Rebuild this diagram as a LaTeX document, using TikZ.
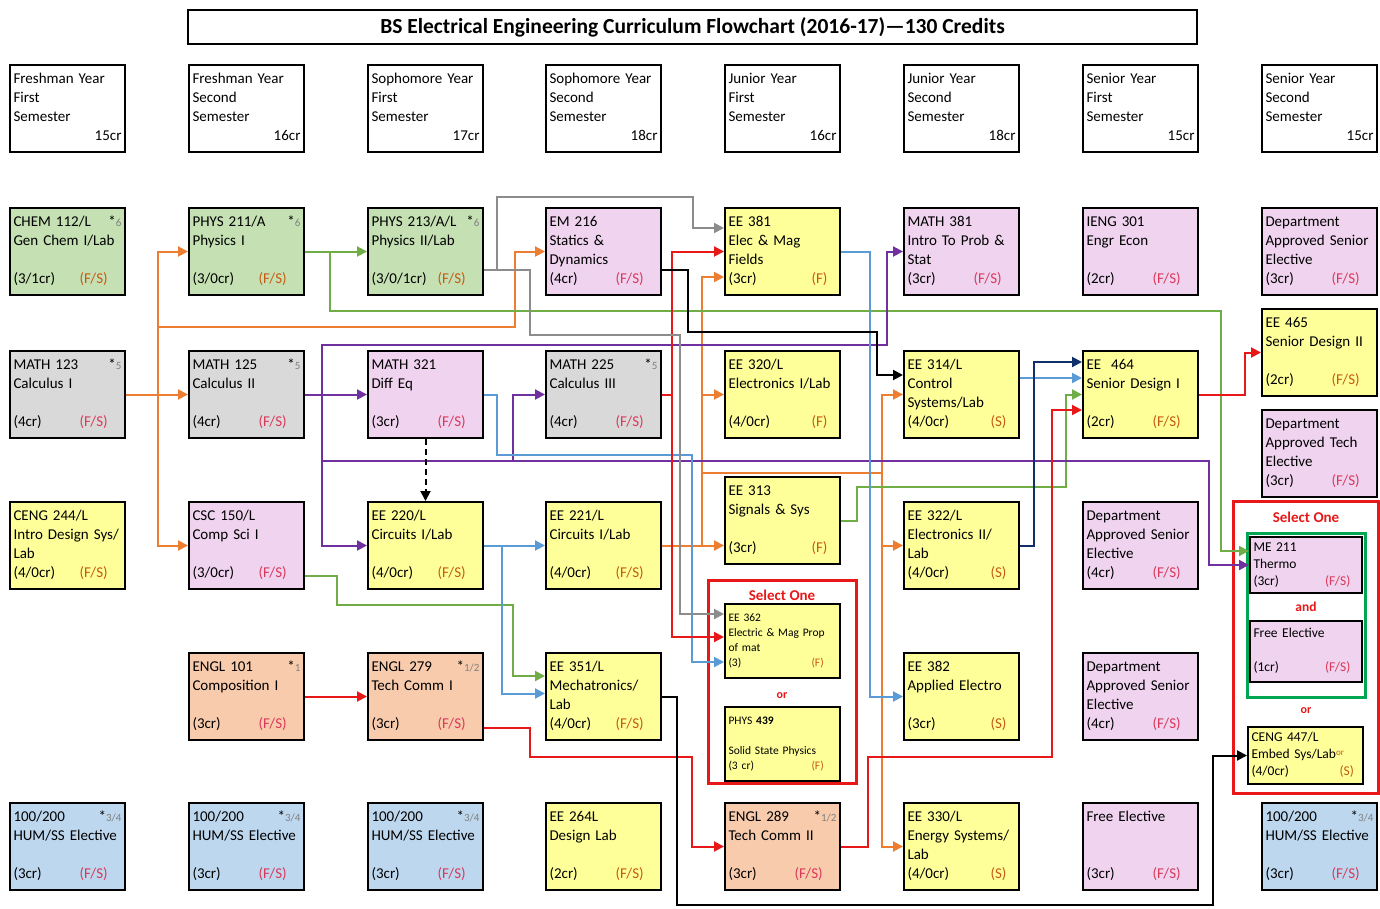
\documentclass[tikz,border=0pt]{standalone}
\usepackage{fontspec}
\setmainfont{Carlito}
\usetikzlibrary{arrows.meta}

\definecolor{cgrn}{HTML}{C5E0B3}
\definecolor{cgry}{HTML}{D9D9D9}
\definecolor{cpnk}{HTML}{EFD3EF}
\definecolor{cyel}{HTML}{FFFF99}
\definecolor{cpch}{HTML}{F8CBAD}
\definecolor{cblu}{HTML}{BDD7EE}
\definecolor{termo}{HTML}{C55A11}
\definecolor{termr}{HTML}{D9385A}
\definecolor{subg}{HTML}{808080}
\definecolor{lora}{HTML}{ED7D31}
\definecolor{lgrn}{HTML}{70AD47}
\definecolor{lpur}{HTML}{7030A0}
\definecolor{lblu}{HTML}{5B9BD5}
\definecolor{lred}{HTML}{E81818}
\definecolor{lgry}{HTML}{8C8C8C}
\definecolor{lnvy}{HTML}{10306A}
\definecolor{lgf}{HTML}{00A651}
\colorlet{termc}{termr}

\tikzset{
  box/.style = {shape = rectangle, draw, line width = 2pt, minimum width = 115pt, minimum height = 87pt,
    text width = 108pt, inner xsep = 3.5pt, inner ysep = 0pt, align = left, font = \fontsize{15}{19}\selectfont},
  hdr/.style = {box, fill = white},
  grn/.style = {box, fill = cgrn, execute at begin node = \colorlet{termc}{termo}},
  yel/.style = {box, fill = cyel, execute at begin node = \colorlet{termc}{termo}},
  gry/.style = {box, fill = cgry},
  pnk/.style = {box, fill = cpnk},
  pch/.style = {box, fill = cpch},
  blu/.style = {box, fill = cblu},
  sbox/.style = {yel, minimum height = 74pt, font = \fontsize{11.5}{15}\selectfont},
  mbox/.style = {box, minimum width = 112pt, text width = 105pt, font = \fontsize{13.5}{17}\selectfont},
  frame/.style = {shape = rectangle, draw = lred, line width = 3pt},
  redlbl/.style = {text = lred, font = \bfseries\fontsize{15}{17}\selectfont},
  con/.style = {line width = 2pt, -{Triangle[length = 10pt, width = 10pt]}},
  ora/.style = {con, draw = lora},
  gra/.style = {con, draw = lgrn},
  pua/.style = {con, draw = lpur},
  bla/.style = {con, draw = lblu},
  rda/.style = {con, draw = lred},
  gya/.style = {con, draw = lgry},
  nva/.style = {con, draw = lnvy},
  bka/.style = {con, draw = black},
}

\newcommand{\course}[8]{\node (#1) [#2] at (#3 + 57.5, #4 + 43.5) {\strut #5\\\strut #6\\\strut #7\\\strut #8};}
\newcommand{\st}[1]{\hfill*{\color{subg}\fontsize{11}{11}\selectfont #1}}
\newcommand{\termfs}[1]{\makebox[66pt][l]{#1}{\color{termc}(F/S)}}
\newcommand{\termf}[1]{\makebox[83pt][l]{#1}{\color{termc}(F)}}
\newcommand{\terms}[1]{\makebox[83pt][l]{#1}{\color{termc}(S)}}

\begin{document}
\begin{tikzpicture}[x = 1pt, y = -1pt]
    \useasboundingbox (0, 0) rectangle (1380, 909);
    \pgfmathsetmacro{\xa}{10}
    \pgfmathsetmacro{\xb}{189}
    \pgfmathsetmacro{\xc}{368}
    \pgfmathsetmacro{\xd}{546}
    \pgfmathsetmacro{\xe}{725}
    \pgfmathsetmacro{\xf}{904}
    \pgfmathsetmacro{\xg}{1083}
    \pgfmathsetmacro{\xh}{1262}
    \pgfmathsetmacro{\ya}{208}
    \pgfmathsetmacro{\yb}{351}
    \pgfmathsetmacro{\yc}{502}
    \pgfmathsetmacro{\yd}{653}
    \pgfmathsetmacro{\ye}{803}

    \node (title) [draw, line width = 2pt, minimum width = 1009pt, minimum height = 34pt,
      font = \bfseries\fontsize{21.5}{23}\selectfont] at (692.5, 27)
      {BS Electrical Engineering Curriculum Flowchart (2016-17)—130 Credits};

    % semesters
    \course{hfa}{hdr}{\xa}{65}{Freshman Year}{First}{Semester}{\hfill 15cr}
    \course{hfb}{hdr}{\xb}{65}{Freshman Year}{Second}{Semester}{\hfill 16cr}
    \course{hsa}{hdr}{\xc}{65}{Sophomore Year}{First}{Semester}{\hfill 17cr}
    \course{hsb}{hdr}{\xd}{65}{Sophomore Year}{Second}{Semester}{\hfill 18cr}
    \course{hja}{hdr}{\xe}{65}{Junior Year}{First}{Semester}{\hfill 16cr}
    \course{hjb}{hdr}{\xf}{65}{Junior Year}{Second}{Semester}{\hfill 18cr}
    \course{hna}{hdr}{\xg}{65}{Senior Year}{First}{Semester}{\hfill 15cr}
    \course{hnb}{hdr}{\xh}{65}{Senior Year}{Second}{Semester}{\hfill 15cr}

    % row 1
    \course{chem}{grn}{\xa}{\ya}{CHEM 112/L\st{6}}{Gen Chem I/Lab}{}{\termfs{(3/1cr)}}
    \course{phys1}{grn}{\xb}{\ya}{PHYS 211/A\st{6}}{Physics I}{}{\termfs{(3/0cr)}}
    \course{phys2}{grn}{\xc}{\ya}{PHYS 213/A/L\st{6}}{Physics II/Lab}{}{\termfs{(3/0/1cr)}}
    \course{em}{pnk}{\xd}{\ya}{EM 216}{Statics \&}{Dynamics}{\termfs{(4cr)}}
    \course{ee381}{yel}{\xe}{\ya}{EE 381}{Elec \& Mag}{Fields}{\termf{(3cr)}}
    \course{math381}{pnk}{\xf}{\ya}{MATH 381}{Intro To Prob \&}{Stat}{\termfs{(3cr)}}
    \course{ieng}{pnk}{\xg}{\ya}{IENG 301}{Engr Econ}{}{\termfs{(2cr)}}
    \course{dsea}{pnk}{\xh}{\ya}{Department}{Approved Senior}{Elective}{\termfs{(3cr)}}

    % row 2
    \course{calc1}{gry}{\xa}{\yb}{MATH 123\st{5}}{Calculus I}{}{\termfs{(4cr)}}
    \course{calc2}{gry}{\xb}{\yb}{MATH 125\st{5}}{Calculus II}{}{\termfs{(4cr)}}
    \course{diffeq}{pnk}{\xc}{\yb}{MATH 321}{Diff Eq}{}{\termfs{(3cr)}}
    \course{calc3}{gry}{\xd}{\yb}{MATH 225\st{5}}{Calculus III}{}{\termfs{(4cr)}}
    \course{ee320}{yel}{\xe}{\yb}{EE 320/L}{Electronics I/Lab}{}{\termf{(4/0cr)}}
    \course{ee314}{yel}{\xf}{\yb}{EE 314/L}{Control}{Systems/Lab}{\terms{(4/0cr)}}
    \course{ee464}{yel}{\xg}{\yb}{EE\ \ 464}{Senior Design I}{}{\termfs{(2cr)}}
    \course{ee465}{yel}{\xh}{309}{EE 465}{Senior Design II}{}{\termfs{(2cr)}}
    \course{dte}{pnk}{\xh}{410}{Department}{Approved Tech}{Elective}{\termfs{(3cr)}}

    % row 3
    \course{ceng244}{yel}{\xa}{\yc}{CENG 244/L}{Intro Design Sys/}{Lab}{\termfs{(4/0cr)}}
    \course{csc}{pnk}{\xb}{\yc}{CSC 150/L}{Comp Sci I}{}{\termfs{(3/0cr)}}
    \course{ee220}{yel}{\xc}{\yc}{EE 220/L}{Circuits I/Lab}{}{\termfs{(4/0cr)}}
    \course{ee221}{yel}{\xd}{\yc}{EE 221/L}{Circuits I/Lab}{}{\termfs{(4/0cr)}}
    \course{ee313}{yel}{\xe}{477}{EE 313}{Signals \& Sys}{}{\termf{(3cr)}}
    \course{ee322}{yel}{\xf}{\yc}{EE 322/L}{Electronics II/}{Lab}{\terms{(4/0cr)}}
    \course{dseb}{pnk}{\xg}{\yc}{Department}{Approved Senior}{Elective}{\termfs{(4cr)}}

    % row 4
    \course{engl101}{pch}{\xb}{\yd}{ENGL 101\st{1}}{Composition I}{}{\termfs{(3cr)}}
    \course{engl279}{pch}{\xc}{\yd}{ENGL 279\st{1/2}}{Tech Comm I}{}{\termfs{(3cr)}}
    \course{ee351}{yel}{\xd}{\yd}{EE 351/L}{Mechatronics/}{Lab}{\termfs{(4/0cr)}}
    \course{ee382}{yel}{\xf}{\yd}{EE 382}{Applied Electro}{}{\terms{(3cr)}}
    \course{dsec}{pnk}{\xg}{\yd}{Department}{Approved Senior}{Elective}{\termfs{(4cr)}}

    % row 5
    \course{huma}{blu}{\xa}{\ye}{100/200\st{3/4}}{HUM/SS Elective}{}{\termfs{(3cr)}}
    \course{humb}{blu}{\xb}{\ye}{100/200\st{3/4}}{HUM/SS Elective}{}{\termfs{(3cr)}}
    \course{humc}{blu}{\xc}{\ye}{100/200\st{3/4}}{HUM/SS Elective}{}{\termfs{(3cr)}}
    \course{ee264}{yel}{\xd}{\ye}{EE 264L}{Design Lab}{}{\termfs{(2cr)}}
    \course{engl289}{pch}{\xe}{\ye}{ENGL 289\st{1/2}}{Tech Comm II}{}{\termfs{(3cr)}}
    \course{ee330}{yel}{\xf}{\ye}{EE 330/L}{Energy Systems/}{Lab}{\terms{(4/0cr)}}
    \course{free}{pnk}{\xg}{\ye}{Free Elective}{}{}{\termfs{(3cr)}}
    \course{humd}{blu}{\xh}{\ye}{100/200\st{3/4}}{HUM/SS Elective}{}{\termfs{(3cr)}}

    % select one (junior)
    \node (sela) [frame, minimum width = 148pt, minimum height = 203pt] at (782, 681.5) {};
    \node (selalbl) [redlbl] at (782, 595) {Select One};
    \node (ee362) [sbox] at (782.5, 641) {\strut EE 362\\\strut Electric \& Mag Prop\\\strut of mat\\\strut\termf{(3)}};
    \node (selaor) [redlbl, font = \bfseries\fontsize{12}{14}\selectfont] at (782, 696) {or};
    \node (phys439) [sbox] at (782.5, 743.5) {\strut PHYS \textbf{439}\\\strut ~\\\strut Solid State Physics\\\strut\termf{(3 cr)}};

    % select one (senior)
    \node (selb) [frame, minimum width = 145pt, minimum height = 292pt] at (1305.5, 647) {};
    \node (selblbl) [redlbl] at (1306, 517) {Select One};
    \node (grnfr) [draw = lgf, line width = 3pt, minimum width = 118pt, minimum height = 164pt] at (1306, 615) {};
    \node (me211) [mbox, fill = cpnk, minimum height = 56pt] at (1306, 565) {\strut ME 211\\\strut Thermo\\\strut\makebox[71.5pt][l]{(3cr)}{\color{termr}(F/S)}};
    \node (andlbl) [redlbl, font = \bfseries\fontsize{13.5}{15}\selectfont] at (1306, 607) {and};
    \node (freeel) [mbox, fill = cpnk, minimum height = 61pt] at (1306, 651.5) {\strut Free Elective\\\strut ~\\\strut\makebox[71.5pt][l]{(1cr)}{\color{termr}(F/S)}};
    \node (selbor) [redlbl, font = \bfseries\fontsize{12}{14}\selectfont] at (1306, 711) {or};
    \node (ceng447) [mbox, fill = cyel, minimum width = 115pt, text width = 108pt, minimum height = 57pt] at (1305.5, 755.5)
      {\strut CENG 447/L\\\strut Embed Sys/Lab{\color{termo}\fontsize{9}{9}\selectfont\raisebox{3pt}{or}}\\\strut\makebox[88pt][l]{(4/0cr)}{\color{termo}(S)}};

    % orange
    \draw [ora] (calc1.east) -- (calc2.west);
    \draw [ora] (158, 394.5) |- (phys1.west);
    \draw [ora] (158, 394.5) |- (csc.west);
    \draw [ora] (158, 327) -- (515, 327) |- (em.west);
    \draw [ora] (ee221.east) -- (ee221.east -| ee313.west);
    \draw [ora] (702, 545.5) |- ([yshift = -25.5pt]ee381.west);
    \draw [ora] (702, 394.5) -- (ee320.west);
    \draw [line width = 2pt, draw = lora] (702, 473) -- (882, 473);
    \draw [ora] (882, 473) |- (ee314.west);
    \draw [ora] (882, 473) |- (ee322.west);
    \draw [ora] (882, 473) |- (ee330.west);

    % green
    \draw [gra] (phys1.east) -- (phys2.west);
    \draw [gra] (330, 251.5) |- (1221, 311) |- ([yshift = 14pt]me211.west);
    \draw [gra] ([yshift = -30.5pt]csc.east) -| (337, 605) -| (513, 676) -- ([yshift = 20.5pt]ee351.west);
    \draw [gra] (ee313.east) -| (857, 487) -| (1066, 394.5) -- (ee464.west);

    % purple
    \draw [pua] (calc2.east) -- (diffeq.west);
    \draw [pua] (322, 394.5) |- (ee220.west);
    \draw [pua] (322, 394.5) |- (887, 345) |- (math381.west);
    \draw [pua] (322, 461) -- (1209, 461) |- (me211.west);
    \draw [pua] (513, 461) |- (calc3.west);

    % light blue
    \draw [bla] (diffeq.east) -| (497, 455) -| (692, 662) -- ([yshift = -21pt]ee362.west);
    \draw [bla] (ee220.east) -- (ee221.west);
    \draw [bla] (502, 545.5) |- ([yshift = 3pt]ee351.west);
    \draw [bla] (ee381.east) -| (870, 696.5) -- (ee382.west);
    \draw [bla] ([yshift = 16.5pt]ee314.east) -- ([yshift = 16.5pt]ee464.west);

    % navy
    \draw [nva] (ee322.east) -| (1034, 362) -- ([yshift = 32.5pt]ee464.west);

    % red
    \draw [rda] (calc3.east) -| (672, 251.5) -- (ee381.west);
    \draw [rda] (672, 394.5) |- ([yshift = 4pt]ee362.west);
    \draw [rda] (engl101.east) -- (engl279.west);
    \draw [rda] ([yshift = -31.5pt]engl279.east) -| (530, 757) -| (692, 846.5) -- (engl289.west);
    \draw [rda] (engl289.east) -| (868, 757) -| (1052, 410) -- ([yshift = -15.5pt]ee464.west);
    \draw [rda] (ee464.east) -| (1245, 352.5) -- (ee465.west);

    % gray
    \draw [gya] ([yshift = -18.5pt]phys2.east) -| (497, 197) -| (693, 228) -- ([yshift = 23.5pt]ee381.west);
    \draw [gya] (497, 270) -| (530, 335) -| (680, 614) -- ([yshift = 27pt]ee362.west);

    % black
    \draw [bka] ([yshift = -18.5pt]em.east) -| (688, 332) -| (877, 375) -- ([yshift = 19.5pt]ee314.west);
    \draw [bka] (ee351.east) -| (677, 905) -| (1213, 755.5) -- (ceng447.west);
    \draw [bka, dash pattern = on 6pt off 4pt] (diffeq.south) -- (ee220.north);
\end{tikzpicture}
\end{document}
